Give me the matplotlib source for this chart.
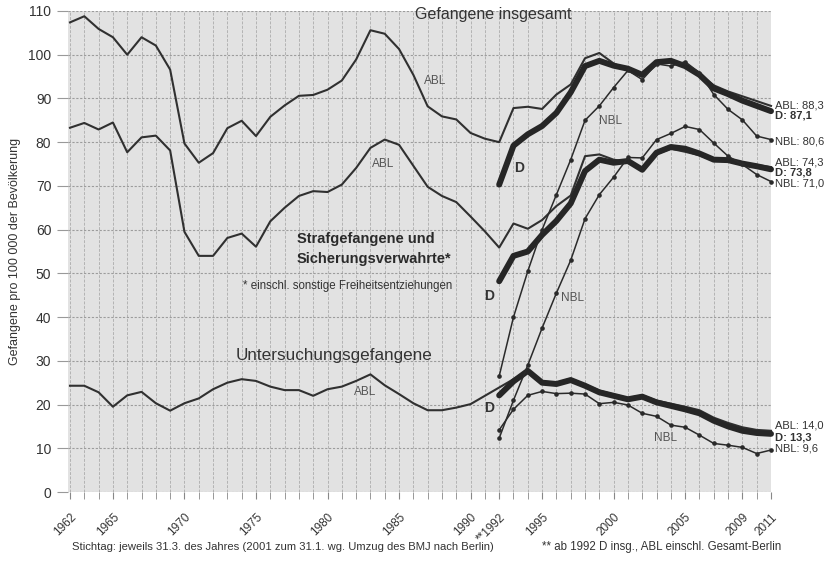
import numpy as np
import matplotlib.pyplot as plt

plt.rcParams['font.family'] = ['Liberation Sans', 'DejaVu Sans']

# Werte je 100 000 der Bevoelkerung
years_abl = list(range(1962, 2012))
abl_total = [107.4, 108.8, 105.9, 104.0, 100.0, 104.0, 102.1, 96.6, 79.7, 75.3,
             77.5, 83.2, 84.9, 81.4, 85.8, 88.4, 90.6, 90.8, 92.0, 94.1,
             98.9, 105.6, 104.8, 101.3, 95.4, 88.2, 85.9, 85.2, 82.1, 80.8,
             80.0, 87.8, 88.1, 87.6, 90.9, 93.2, 99.2, 100.4, 98.0, 96.5,
             95.0, 98.5, 98.7, 97.4, 95.5, 93.0, 91.6, 90.5, 89.4, 88.3]
abl_straf = [83.3, 84.4, 82.9, 84.5, 77.7, 81.1, 81.5, 78.1, 59.5, 54.0,
             54.0, 58.1, 59.1, 56.1, 61.9, 65.0, 67.7, 68.8, 68.6, 70.3,
             74.1, 78.7, 80.6, 79.4, 74.6, 69.8, 67.7, 66.3, 63.0, 59.6,
             55.9, 61.4, 60.2, 62.2, 65.4, 67.8, 76.8, 77.2, 76.0, 75.5,
             73.8, 77.3, 78.5, 77.8, 77.0, 75.8, 75.9, 75.3, 74.8, 74.3]
abl_uhaft = [24.3, 24.3, 22.8, 19.5, 22.1, 22.9, 20.3, 18.6, 20.3, 21.4,
             23.5, 25.0, 25.8, 25.4, 24.1, 23.3, 23.3, 22.0, 23.5, 24.1,
             25.4, 26.9, 24.4, 22.4, 20.3, 18.7, 18.7, 19.3, 20.1, 22.0,
             23.9, 25.8, 27.7, 25.3, 25.0, 25.9, 24.6, 23.2, 22.3, 21.5,
             22.1, 20.9, 20.2, 19.5, 18.7, 17.0, 15.8, 14.8, 14.2, 14.0]

years_d = list(range(1992, 2012))
d_total = [70.3, 79.2, 81.8, 83.7, 86.7, 91.4, 97.4, 98.6, 97.5, 96.8,
           95.4, 98.3, 98.6, 97.4, 95.4, 92.3, 91.0, 89.5, 88.3, 87.1]
nbl_total = [26.5, 40.0, 50.5, 60.0, 68.0, 76.0, 85.0, 88.3, 92.5, 96.4,
             94.3, 97.9, 97.4, 98.4, 95.9, 90.9, 87.5, 85.1, 81.4, 80.6]
d_straf = [48.2, 54.0, 55.0, 58.8, 62.0, 66.0, 73.4, 76.0, 75.3, 75.7,
           73.7, 77.6, 78.9, 78.5, 77.4, 76.0, 75.9, 75.1, 74.5, 73.8]
nbl_straf = [12.3, 21.0, 29.0, 37.5, 45.5, 53.0, 62.5, 68.0, 72.0, 76.5,
             76.4, 80.6, 82.0, 83.6, 82.9, 79.8, 76.8, 74.9, 72.6, 71.0]
d_uhaft = [22.1, 25.3, 27.7, 25.0, 24.7, 25.6, 24.3, 22.8, 22.0, 21.2,
           21.8, 20.5, 19.7, 18.9, 18.0, 16.3, 15.0, 14.0, 13.5, 13.3]
nbl_uhaft = [14.2, 18.9, 22.1, 23.0, 22.5, 22.6, 22.4, 20.2, 20.5, 19.9,
             18.0, 17.3, 15.3, 14.8, 13.0, 11.1, 10.7, 10.2, 8.8, 9.6]

tick_years = [1962, 1965, 1970, 1975, 1980, 1985, 1990, 1992, 1995, 2000, 2005, 2009, 2011]
tick_labels = ['1962', '1965', '1970', '1975', '1980', '1985', '1990', '**1992',
               '1995', '2000', '2005', '2009', '2011']

end_labels = [(88.4, 'ABL: 88,3', 'normal'), (86.2, 'D: 87,1', 'bold'), (80.2, 'NBL: 80,6', 'normal'),
              (75.3, 'ABL: 74,3', 'normal'), (73.1, 'D: 73,8', 'bold'), (70.5, 'NBL: 71,0', 'normal'),
              (15.1, 'ABL: 14,0', 'normal'), (12.5, 'D: 13,3', 'bold'), (9.9, 'NBL: 9,6', 'normal')]


def main():
    fig = plt.figure(figsize=(8.34, 5.69), dpi=100)
    ax = fig.add_axes([68 / 834, 1 - 492 / 569, (771 - 68) / 834, (492 - 11) / 569])
    ax.set_facecolor('#e2e2e2')
    ax.set_xlim(1961.86, 2011)
    ax.set_ylim(0, 110)
    for s in ax.spines.values():
        s.set_visible(False)

    ax.set_yticks(range(0, 111, 10))
    ax.set_xticks(tick_years)
    ax.set_xticks(range(1962, 2012), minor=True)
    ax.set_xticklabels(tick_labels, rotation=45, ha='right', va='top',
                       rotation_mode='anchor', fontsize=8.5, color='#333333')
    ax.tick_params(axis='y', length=8, color='#999999', labelsize=10, labelcolor='#333333', pad=4)
    ax.tick_params(axis='x', which='both', length=5, color='#888888', pad=9)
    ax.grid(axis='y', color='#9c9c9c', lw=0.8, ls=(0, (2, 1.5)))
    ax.grid(axis='x', which='both', color='#b3b3b3', lw=0.7, ls=(0, (3, 1.5)))
    ax.set_axisbelow(True)

    thin = dict(color='#303030', lw=1.5, clip_on=False)
    thick = dict(color='#262626', lw=4.3, solid_capstyle='round', clip_on=False)
    dots = dict(color='#2a2a2a', lw=1.1, marker='o', ms=2.3, clip_on=False)

    for vals in (abl_total, abl_straf, abl_uhaft):
        ax.plot(years_abl, vals, **thin)
    for vals in (d_total, d_straf, d_uhaft):
        ax.plot(years_d, vals, **thick)
    for vals in (nbl_total, nbl_straf, nbl_uhaft):
        ax.plot(years_d, vals, **dots)

    ax.set_ylabel('Gefangene pro 100 000 der Bevölkerung', fontsize=9, color='#333333', labelpad=5)

    ax.text(1991.6, 109.3, 'Gefangene insgesamt', ha='center', va='center', fontsize=11.5,
            color='#333333')
    ax.text(1977.85, 57.8, 'Strafgefangene und', ha='left', va='center', fontsize=10.5,
            fontweight='bold', color='#2a2a2a')
    ax.text(1977.85, 53.2, 'Sicherungsverwahrte*', ha='left', va='center', fontsize=10.5,
            fontweight='bold', color='#2a2a2a')
    ax.text(1974.1, 47.1, '* einschl. sonstige Freiheitsentziehungen', ha='left', va='center',
            fontsize=8.3, color='#333333')
    ax.text(1973.6, 31.3, 'Untersuchungsgefangene', ha='left', va='center', fontsize=12.3,
            color='#333333')

    for x, y, t in [(1987.5, 93.9, 'ABL'), (1983.9, 74.9, 'ABL'), (1982.6, 22.8, 'ABL')]:
        ax.text(x, y, t, ha='center', va='center', fontsize=8.5, color='#555555')
    for x, y, t in [(1999.8, 84.8, 'NBL'), (1997.1, 44.4, 'NBL'), (2003.6, 12.3, 'NBL')]:
        ax.text(x, y, t, ha='center', va='center', fontsize=8.5, color='#555555')
    for x, y in [(1993.4, 74.1), (1991.3, 44.8), (1991.3, 19.3)]:
        ax.text(x, y, 'D', ha='center', va='center', fontsize=10, fontweight='bold', color='#333333')

    for y, t, w in end_labels:
        ax.text(2011.3, y, t, ha='left', va='center', fontsize=8, fontweight=w,
                color='#333333', clip_on=False)

    fig.text(72 / 834, 1 - 547 / 569, 'Stichtag: jeweils 31.3. des Jahres (2001 zum 31.1. wg. Umzug des BMJ nach Berlin)',
             ha='left', va='center', fontsize=8.1, color='#333333')
    fig.text(542 / 834, 1 - 547 / 569, '** ab 1992 D insg., ABL einschl. Gesamt-Berlin',
             ha='left', va='center', fontsize=8.3, color='#333333')

    fig.savefig('out.png', dpi=100)


if __name__ == '__main__':
    main()
